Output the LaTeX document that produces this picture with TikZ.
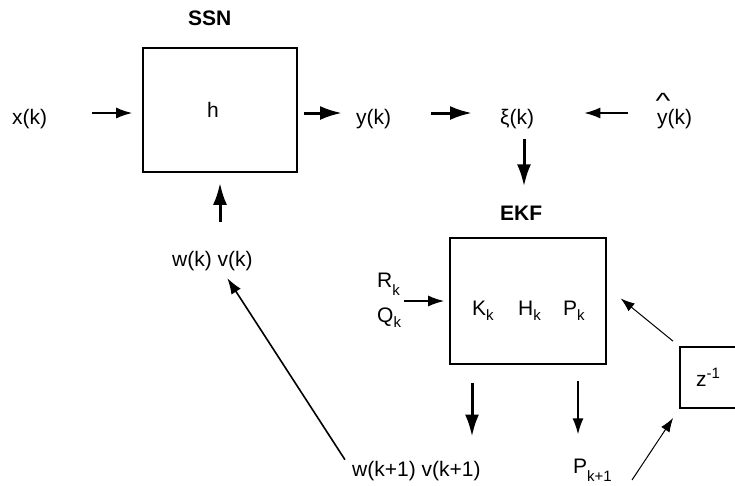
\documentclass[tikz,border=0pt]{standalone}
\usepackage{fontspec}
\setmainfont{Liberation Sans}
\usetikzlibrary{arrows.meta,calc}
\newcommand\mysub[2][6pt]{\raisebox{-#1}{\fontsize{15}{17}\selectfont #2}}
\newcommand\mysup[1]{\raisebox{8pt}{\fontsize{15}{17}\selectfont #1}}
\newcommand\hatty{\rlap{\hspace*{-1.5pt}\raisebox{16pt}{\scalebox{1.5}[1.05]{\textasciicircum}}}y}
\begin{document}
\begin{tikzpicture}[x=1pt,y=-1pt,
  every node/.style={inner sep=0pt,font=\fontsize{21}{25}\selectfont},
  txt/.style={anchor=base west},
  ttl/.style={anchor=base west,font=\fontsize{21}{25}\selectfont\bfseries},
  blk/.style={draw,line width=1.6pt},
  thickarrow/.style={line width=3pt,-{Latex[length=22pt,width=14pt]}},
  thinarrow/.style={line width=1.6pt,-{Latex[length=16pt,width=11pt]}},
  hairarrow/.style={line width=1pt,-{Latex[length=14pt,width=10pt]}}]
\useasboundingbox (0,0) rectangle (735,485);
\clip (0,0) rectangle (735,485);
\fill[white] (0,0) rectangle (735,485);
% blocks
\node[blk,minimum width=154pt,minimum height=124pt] (ssn) at (220,110) {};
\node[blk,minimum width=156pt,minimum height=126pt] (ekf) at (528,301) {};
\node[blk,minimum width=100pt,minimum height=61pt] (z) at (730,377.5) {z\mysup{-1}\hspace*{44pt}};
% labels
\node[ttl] (ssnlabel) at (188,25) {SSN};
\node[ttl] (ekflabel) at (500,220) {EKF};
\node[txt] (h) at (207,117) {h};
\node[txt] (xk) at (12,124) {x(k)};
\node[txt] (yk) at (356,124) {y(k)};
\node[txt] (xi) at (500,124) {ξ(k)};
\node[txt] (yhat) at (657,124) {\hatty(k)};
\node[txt] (wkvk) at (172,266) {w(k) v(k)};
\node[txt] (wk1) at (352,476) {w(k+1) v(k+1)};
\node[txt] (pkone) at (573,473) {P\mysub[8pt]{k+1}};
\node[txt] (rk) at (377,287) {R\mysub[8pt]{k}};
\node[txt] (qk) at (377,322) {Q\mysub[5pt]{k}};
\node[txt] (kk) at (472,315) {K\mysub[5pt]{k}};
\node[txt] (hk) at (518,315) {H\mysub[5pt]{k}};
\node[txt] (pk) at (563,315) {P\mysub[5pt]{k}};
% helper coordinates
\coordinate (row) at ([yshift=-3pt]ssn.east);
\coordinate (rowin) at ([yshift=-3pt]ssn.west);
\coordinate (ekfx) at ([xshift=-4pt]ekf.north);
\coordinate (pdown) at ([xshift=5pt]pkone.north west);
\coordinate (pk1tail) at (632,480);
% connectors
\draw[thinarrow,shorten <=45pt,shorten >=10pt] (xk.east |- rowin) -- (rowin);
\draw[thickarrow,shorten <=6pt,shorten >=14pt] (row) -- (yk.west |- row);
\draw[thickarrow,shorten <=40pt,shorten >=28pt] (yk.east |- row) -- (xi.west |- row);
\draw[thinarrow,shorten <=29pt,shorten >=50pt] (yhat.west |- row) -- (xi.east |- row);
\draw[thickarrow,shorten <=10pt,shorten >=19pt] (ekfx |- xi.south) -- (ekfx |- ekflabel.north);
\draw[thickarrow,shorten <=29pt,shorten >=10pt] (ssn.south |- wkvk.north) -- (ssn.south);
\draw[thinarrow,shorten <=4pt,shorten >=5pt] (rk.east |- ekf.west) -- (ekf.west);
\draw[hairarrow,shorten <=8pt,shorten >=18pt] (z.north west) -- (ekf.10);
\draw[hairarrow,shorten >=11pt] (pk1tail) -- (z.south west);
\draw[thickarrow,shorten <=18pt,shorten >=24pt] (kk.west |- ekf.south) -- (kk.west |- wk1.north);
\draw[thinarrow,shorten <=16pt,shorten >=24pt] (pdown |- ekf.south) -- (pdown);
\draw[thinarrow,shorten <=13pt,shorten >=9pt] (wk1.west) -- (wkvk.-45);
\end{tikzpicture}
\end{document}
